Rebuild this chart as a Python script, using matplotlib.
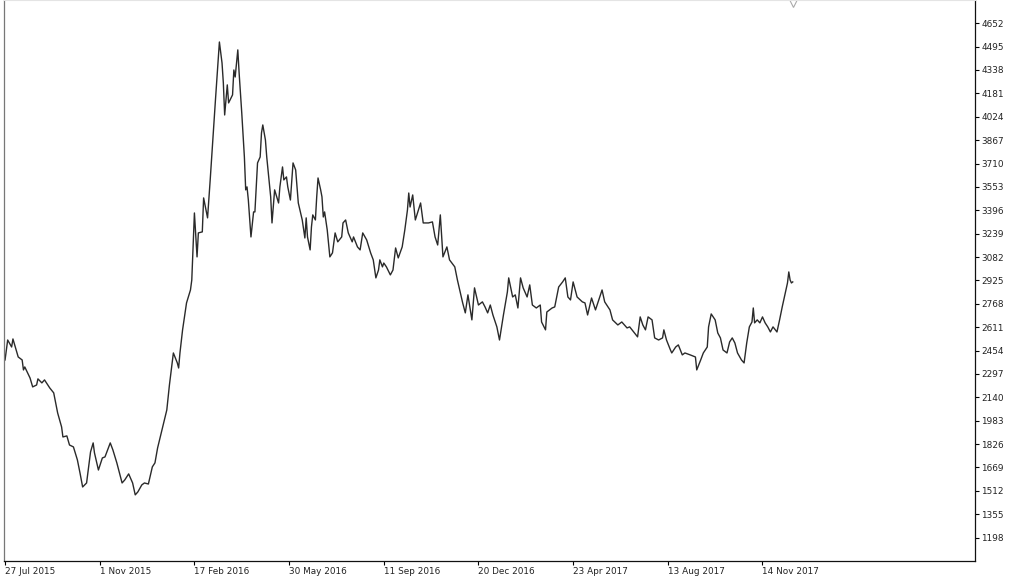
import matplotlib
matplotlib.use("Agg")
import matplotlib.pyplot as plt
import matplotlib.transforms as mtransforms

# bar index (daily bars) and closing value
bars = [0, 2, 5, 6, 10, 13, 14, 15, 19, 21, 24, 25, 28, 30, 34, 37, 40, 43, 44, 47,
        49, 52, 55, 57, 59, 62, 65, 67, 68, 71, 74, 76, 80, 82, 85, 89, 91, 94, 97, 99,
        101, 104, 106, 109, 112, 114, 116, 119, 120, 123, 125, 128, 131, 132, 133, 135, 138, 141, 142, 144,
        146, 147, 150, 151, 154, 156, 160, 163, 165, 166, 167, 169, 170, 173, 174, 175, 177, 178, 180, 182,
        183, 184, 185, 187, 189, 190, 192, 194, 195, 196, 198, 199, 202, 203, 205, 208, 209, 211, 212, 214,
        215, 217, 219, 221, 223, 226, 228, 229, 230, 232, 233, 234, 236, 237, 238, 240, 241, 242, 243, 245,
        247, 249, 251, 253, 256, 257, 259, 261, 264, 265, 268, 270, 272, 275, 278, 280, 282, 284, 285, 287,
        288, 290, 293, 295, 297, 299, 302, 304, 306, 307, 308, 310, 312, 316, 318, 322, 325, 327, 329, 331,
        333, 336, 338, 342, 344, 348, 350, 352, 355, 357, 360, 363, 365, 367, 369, 371, 374, 376, 379, 382,
        383, 386, 388, 390, 392, 394, 397, 399, 401, 404, 407, 408, 411, 412, 416, 418, 421, 424, 426, 428,
        430, 432, 435, 439, 441, 443, 446, 449, 454, 456, 460, 462, 466, 469, 473, 475, 478, 481, 483, 485,
        487, 489, 492, 494, 497, 500, 501, 503, 506, 507, 510, 512, 515, 517, 521, 525, 526, 529, 531, 534,
        535, 537, 540, 542, 544, 546, 549, 551, 553, 555, 557, 560, 562, 564, 566, 568, 569, 570, 572, 574,
        576, 578, 580, 582, 584, 587, 589, 591, 593, 595, 596, 597, 598, 599]

close = [2391, 2525, 2478, 2532, 2411, 2391, 2324, 2344, 2270, 2210, 2223, 2264, 2237, 2257, 2203, 2170, 2035, 1941, 1874, 1881,
         1820, 1807, 1720, 1632, 1538, 1565, 1773, 1834, 1767, 1652, 1733, 1740, 1834, 1787, 1700, 1565, 1585, 1626, 1565, 1485,
         1505, 1552, 1565, 1558, 1673, 1700, 1800, 1908, 1941, 2055, 2223, 2438, 2371, 2337, 2438, 2593, 2774, 2861, 2928, 3378,
         3083, 3244, 3251, 3479, 3345, 3600, 4137, 4526, 4385, 4251, 4036, 4238, 4117, 4171, 4338, 4291, 4473, 4318, 4050, 3754,
         3533, 3553, 3466, 3217, 3385, 3385, 3714, 3754, 3915, 3969, 3868, 3754, 3486, 3311, 3533, 3445, 3553, 3687, 3600, 3620,
         3553, 3465, 3714, 3667, 3445, 3331, 3210, 3345, 3217, 3130, 3284, 3365, 3331, 3486, 3613, 3533, 3486, 3351, 3385, 3264,
         3083, 3110, 3244, 3184, 3217, 3311, 3331, 3244, 3184, 3217, 3150, 3130, 3244, 3197, 3110, 3063, 2942, 2995, 3063, 3016,
         3042, 3016, 2962, 2995, 3143, 3076, 3150, 3264, 3398, 3512, 3418, 3499, 3331, 3445, 3311, 3311, 3318, 3217, 3163, 3365,
         3083, 3150, 3063, 3016, 2928, 2774, 2707, 2828, 2660, 2875, 2760, 2781, 2747, 2707, 2760, 2693, 2613, 2525, 2693, 2848,
         2942, 2814, 2828, 2740, 2942, 2875, 2814, 2895, 2760, 2740, 2760, 2646, 2593, 2713, 2740, 2747, 2881, 2915, 2942, 2814,
         2794, 2915, 2814, 2781, 2774, 2693, 2807, 2727, 2861, 2781, 2727, 2660, 2626, 2646, 2606, 2613, 2579, 2546, 2680, 2626,
         2593, 2680, 2660, 2539, 2525, 2539, 2593, 2525, 2458, 2438, 2478, 2492, 2425, 2438, 2425, 2411, 2324, 2391, 2438, 2478,
         2613, 2700, 2660, 2572, 2539, 2458, 2438, 2512, 2539, 2505, 2438, 2391, 2371, 2505, 2613, 2646, 2740, 2640, 2660, 2640,
         2680, 2640, 2613, 2579, 2613, 2579, 2660, 2747, 2828, 2908, 2982, 2928, 2908, 2915]

date_ticks = [0, 72, 144, 216, 288, 360, 432, 504, 576]
date_labels = ["27 Jul 2015", "1 Nov 2015", "17 Feb 2016", "30 May 2016", "11 Sep 2016",
               "20 Dec 2016", "23 Apr 2017", "13 Aug 2017", "14 Nov 2017"]
price_ticks = [1198, 1355, 1512, 1669, 1826, 1983, 2140, 2297, 2454, 2611, 2768, 2925,
               3082, 3239, 3396, 3553, 3710, 3867, 4024, 4181, 4338, 4495, 4652]

fig = plt.figure(figsize=(10.24, 5.77), dpi=100)
ax = fig.add_axes([4 / 1024, 16 / 577, 971 / 1024, 561 / 577])

ax.plot(bars, close, color="#2a2a2a", linewidth=1.0)

ax.set_xlim(-0.8, 737.6)
ax.set_ylim(1041, 4808)

ax.set_xticks(date_ticks)
ax.set_xticklabels(date_labels, ha="left", fontsize=6.4, color="#222222")
ax.yaxis.tick_right()
ax.set_yticks(price_ticks)
ax.set_yticklabels([str(p) for p in price_ticks], fontsize=6.4, color="#222222")
ax.tick_params(axis="x", direction="out", length=3, width=0.8, pad=1.5)
ax.tick_params(axis="y", direction="out", length=3, width=0.8, pad=1.5)

for side in ["left", "right", "bottom"]:
    ax.spines[side].set_color("#111111")
    ax.spines[side].set_linewidth(0.9)
ax.spines["left"].set_color("#777777")
ax.spines["top"].set_color("#e4e4e4")

# chart shift marker at the top
trans = mtransforms.blended_transform_factory(ax.transData, ax.transAxes)
ax.plot([bars[-1]], [0.995], marker="v", markersize=6, markerfacecolor="white",
        markeredgecolor="#aaaaaa", markeredgewidth=0.8, transform=trans, clip_on=False)

fig.savefig("out.png", dpi=100, facecolor="white")
